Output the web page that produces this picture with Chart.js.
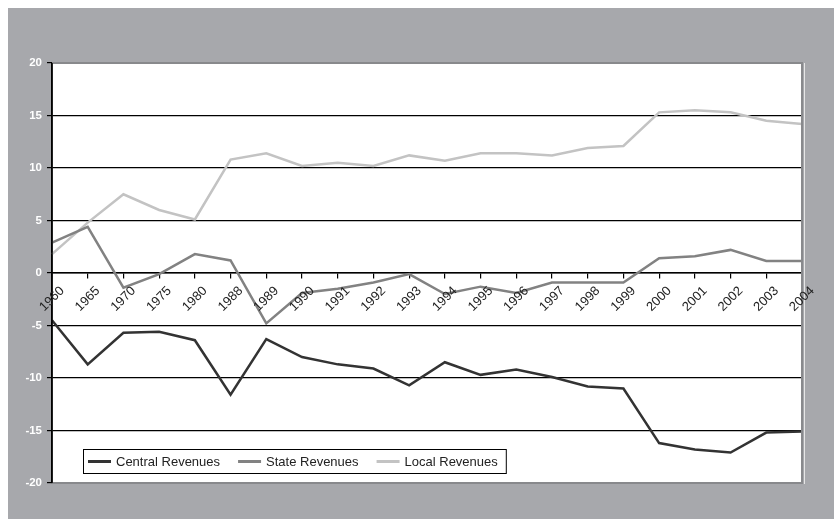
<!DOCTYPE html>
<html>
<head>
<meta charset="utf-8">
<script src="https://cdn.jsdelivr.net/npm/chart.js@4/dist/chart.umd.min.js"></script>
<style>
  html, body { margin: 0; padding: 0; background: #fff; }
  #wrap { width: 834px; height: 519px; }
</style>
</head>
<body>
<div id="wrap"><canvas id="chart" width="834" height="519"></canvas></div>
<script>
'use strict'

const years = ['1960', '1965', '1970', '1975', '1980', '1988', '1989', '1990', '1991', '1992', '1993',
  '1994', '1995', '1996', '1997', '1998', '1999', '2000', '2001', '2002', '2003', '2004']
const centralRevenues = [-4.5, -8.7, -5.7, -5.6, -6.4, -11.6, -6.3, -8.0, -8.7, -9.1, -10.7,
  -8.5, -9.7, -9.2, -9.9, -10.8, -11.0, -16.2, -16.8, -17.1, -15.2, -15.1]
const stateRevenues = [2.9, 4.4, -1.4, -0.1, 1.8, 1.2, -4.8, -1.9, -1.5, -0.9, -0.1,
  -2.0, -1.3, -1.9, -0.9, -0.9, -0.9, 1.4, 1.6, 2.2, 1.15, 1.15]
const localRevenues = [1.8, 4.8, 7.5, 6.0, 5.1, 10.8, 11.4, 10.2, 10.5, 10.2, 11.2,
  10.7, 11.4, 11.4, 11.2, 11.9, 12.1, 15.3, 15.5, 15.3, 14.5, 14.2]
const yMin = -20
const yMax = 20
const yStep = 5

const FONT = '"Liberation Sans", Arial, Helvetica, sans-serif'

// gray frame, white plot area, plot border, rotated year labels, boxed legend
const framePlugin = {
  id: 'frame',
  beforeDraw(chart) {
    const { ctx, chartArea: a } = chart
    ctx.save()
    ctx.fillStyle = '#fff'
    ctx.fillRect(0, 0, chart.width, chart.height)
    ctx.fillStyle = '#a7a8ac'
    ctx.fillRect(8, 8, chart.width - 8, chart.height - 8)
    ctx.fillStyle = '#fff'
    ctx.fillRect(a.left, a.top, a.right - a.left, a.bottom - a.top)
    ctx.restore()
  },
  afterDraw(chart) {
    const { ctx, chartArea: a } = chart
    const xs = chart.scales.x
    const ys = chart.scales.y
    ctx.save()

    // plot border (top / right / bottom)
    ctx.strokeStyle = '#88898c'
    ctx.lineWidth = 2
    ctx.beginPath()
    ctx.moveTo(a.left, a.top)
    ctx.lineTo(a.right, a.top)
    ctx.lineTo(a.right, a.bottom)
    ctx.lineTo(a.left, a.bottom)
    ctx.stroke()
    ctx.strokeStyle = '#e6e6e6'
    ctx.lineWidth = 1
    ctx.beginPath()
    ctx.moveTo(a.right + 2.5, a.top)
    ctx.lineTo(a.right + 2.5, a.bottom + 1)
    ctx.stroke()

    // y-axis on top of the border
    ctx.strokeStyle = '#000'
    ctx.lineWidth = 1.5
    ctx.beginPath()
    ctx.moveTo(a.left, a.top)
    ctx.lineTo(a.left, a.bottom)
    ctx.stroke()

    // year labels, centred under each tick at 45deg
    const y0 = ys.getPixelForValue(0)
    ctx.fillStyle = '#222'
    ctx.font = '13px ' + FONT
    ctx.textAlign = 'center'
    ctx.textBaseline = 'middle'
    years.forEach((lab, i) => {
      const x = xs.getPixelForValue(i)
      ctx.save()
      ctx.translate(x, y0 + 26)
      ctx.rotate(-Math.PI / 4)
      ctx.fillText(lab, 0, 0)
      ctx.restore()
    })

    // legend box
    const lx = a.left + 31
    const ly = a.bottom - 34
    const lh = 24
    ctx.font = '13px ' + FONT
    ctx.textAlign = 'left'
    let cx = lx + 5
    const items = chart.data.datasets.map(ds => {
      const item = { x: cx, label: ds.label, color: ds.borderColor }
      cx += 28 + ctx.measureText(ds.label).width + 18
      return item
    })
    const lw = cx - 18 + 8 - lx
    ctx.fillStyle = '#fff'
    ctx.fillRect(lx, ly, lw, lh)
    ctx.strokeStyle = '#000'
    ctx.lineWidth = 1
    ctx.strokeRect(lx + 0.5, ly + 0.5, lw, lh)
    items.forEach(it => {
      ctx.strokeStyle = it.color
      ctx.lineWidth = 3
      ctx.beginPath()
      ctx.moveTo(it.x, ly + lh / 2 + 0.5)
      ctx.lineTo(it.x + 23, ly + lh / 2 + 0.5)
      ctx.stroke()
      ctx.fillStyle = '#222'
      ctx.fillText(it.label, it.x + 28, ly + lh / 2 + 1)
    })

    ctx.restore()
  }
}

function drawChart() {
  const canvas = document.getElementById('chart')
  new Chart(canvas, {
    type: 'line',
    data: {
      labels: years,
      datasets: [
        { label: 'Central Revenues', data: centralRevenues, borderColor: '#333333', borderWidth: 2.5 },
        { label: 'State Revenues', data: stateRevenues, borderColor: '#828282', borderWidth: 2.5 },
        { label: 'Local Revenues', data: localRevenues, borderColor: '#c3c3c3', borderWidth: 2.5 },
      ],
    },
    options: {
      responsive: false,
      animation: false,
      events: [],
      layout: { padding: { left: 0, top: 63, right: 32, bottom: 36 } },
      elements: { point: { radius: 0 }, line: { tension: 0, fill: false } },
      plugins: { legend: { display: false }, tooltip: { enabled: false } },
      scales: {
        x: {
          type: 'category',
          position: { y: 0 },
          offset: false,
          grid: { drawOnChartArea: false, drawTicks: true, tickLength: 5, color: '#000', lineWidth: 1.2 },
          border: { color: '#000', width: 1.5 },
          ticks: { display: false },
        },
        y: {
          min: yMin,
          max: yMax,
          afterFit(scale) { scale.width = 52 },
          grid: {
            color: c => (c.tick && (c.tick.value === yMin || c.tick.value === yMax)) ? 'rgba(0,0,0,0)' : '#000',
            tickColor: '#000',
            lineWidth: 1.2,
            tickLength: 5,
          },
          border: { color: '#000', width: 1.5 },
          ticks: {
            stepSize: yStep,
            padding: 5,
            color: '#fff',
            font: { family: FONT, size: 11.5, weight: 'bold' },
          },
        },
      },
    },
    plugins: [framePlugin],
  })
}

drawChart()
</script>
</body>
</html>
